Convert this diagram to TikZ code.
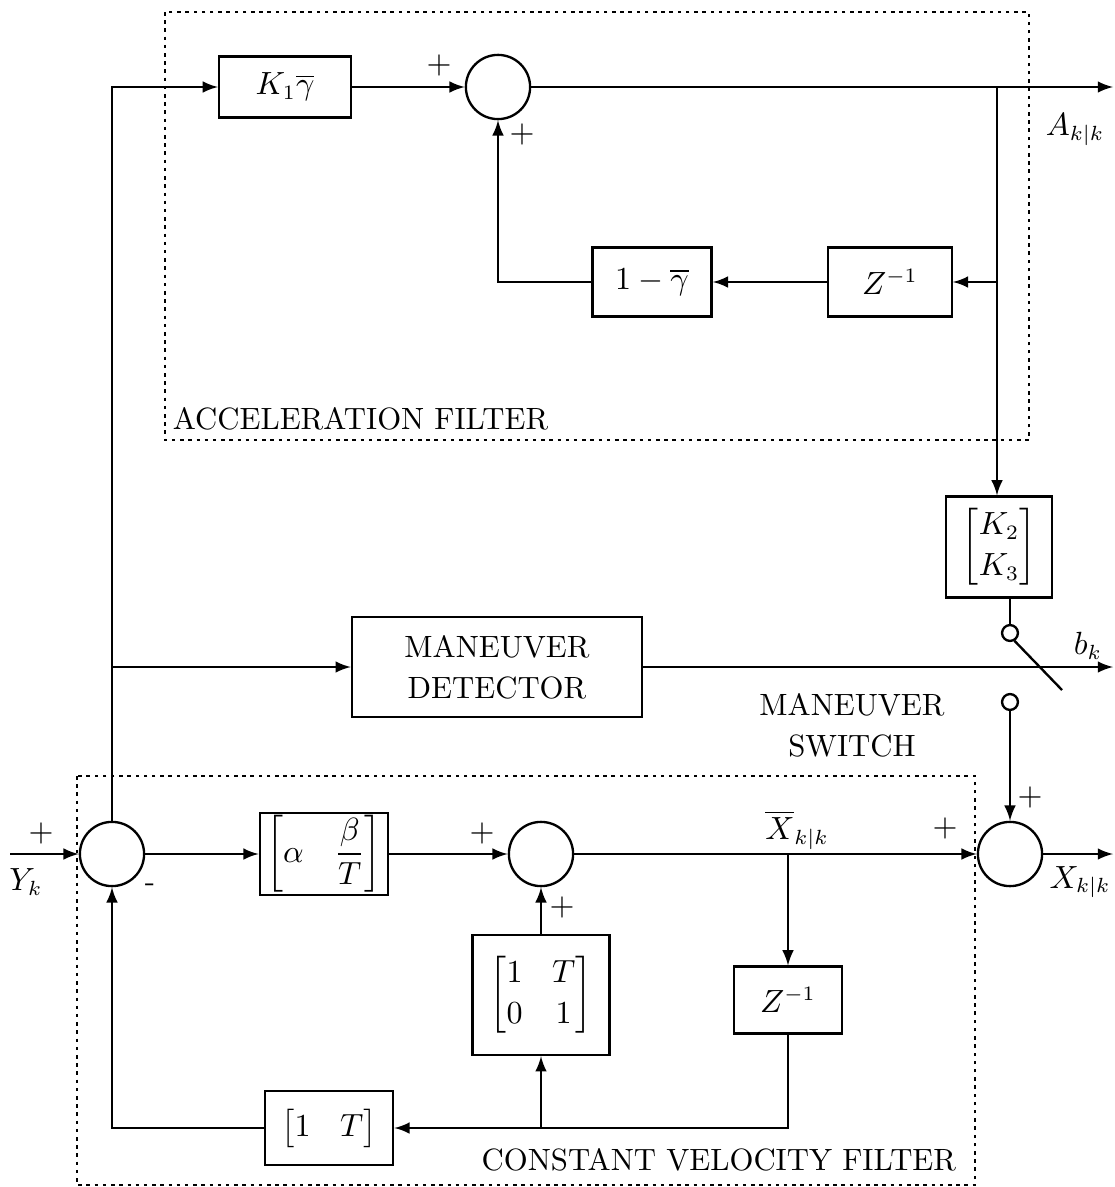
\documentclass[tikz,border=0pt]{standalone}
\usepackage{amsmath}
\usetikzlibrary{arrows,calc,math}

\begin{document}
\begin{tikzpicture}[x=0.012cm,y=-0.012cm,line width=0.8pt,
  font=\fontsize{10.5}{14}\selectfont,
  blk/.style={draw,inner sep=0pt,align=center},
  sum/.style={draw,circle,inner sep=0pt,minimum size=0.77cm},
  swc/.style={draw,circle,inner sep=0pt,minimum size=0.19cm},
  frame/.style={line width=0.7pt,dash pattern=on 1.2pt off 1.6pt}]
\useasboundingbox (0,0) rectangle (1115,1187);

% acceleration filter
\node[blk,minimum width=1.58cm,minimum height=0.73cm] (Kg) at (285,87) {$K_1\overline{\gamma}$};
\node[sum] (S2) at (498,87) {};
\node[blk,minimum width=1.43cm,minimum height=0.83cm] (Og) at (652,282) {$1-\overline{\gamma}$};
\node[blk,minimum width=1.48cm,minimum height=0.83cm] (ZA) at (890,282) {$Z^{-1}$};
\node[blk,minimum width=1.27cm,minimum height=1.21cm] (KK) at (999,547) {$\begin{bmatrix}K_2\\K_3\end{bmatrix}$};
\coordinate (brA) at (997,87);
\coordinate (outA) at (1113,87);

% maneuver detector and switch
\node[blk,minimum width=3.48cm,minimum height=1.2cm] (MD) at (497,667) {MANEUVER\\DETECTOR};
\node[swc] (swA) at (1010,633) {};
\node[swc] (swB) at (1010,702) {};
\coordinate (blade) at (1062,690);
\coordinate (outB) at (1113,667);

% constant velocity filter
\node[sum] (S1) at (112,854) {};
\node[blk,minimum width=1.54cm,minimum height=0.98cm] (AB) at (324,854) {$\left[\alpha\quad\dfrac{\beta}{T}\right]$};
\node[sum] (S3) at (541,854) {};
\node[sum] (S4) at (1010,854) {};
\node[blk,minimum width=1.30cm,minimum height=0.80cm] (ZB) at (788,1000) {$Z^{-1}$};
\node[blk,minimum width=1.64cm,minimum height=1.44cm] (FM) at (541,995) {$\begin{bmatrix}1&T\\0&1\end{bmatrix}$};
\node[blk,minimum width=1.54cm,minimum height=0.88cm] (RT) at (329,1128) {$\begin{bmatrix}1&T\end{bmatrix}$};
\coordinate (inY) at (10,854);
\coordinate (brX) at (788,854);
\coordinate (outX) at (1113,854);

% dotted frames
\draw[frame] (165,12) rectangle (1029,440);
\draw[frame] (77,776) rectangle (975,1185);

% connections
\draw[-latex] (S1.north) |- (Kg.west);
\draw[-latex] (Kg.east) -- (S2.west);
\draw[-latex] (S2.east) -- (outA);
\draw[-latex] (brA) -- (brA |- KK.north);
\draw[-latex] (brA |- ZA.east) -- (ZA.east);
\draw[-latex] (ZA.west) -- (Og.east);
\draw[-latex] (Og.west) -| (S2.south);

\draw (KK.south -| swA) -- (swA.north);
\draw (swA.-60) -- (blade);
\draw[-latex] (swB.south) -- (S4.north);
\draw[-latex] (S1 |- MD.west) -- (MD.west);
\draw[-latex] (MD.east) -- (outB);

\draw[-latex] (inY) -- (S1.west);
\draw[-latex] (S1.east) -- (AB.west);
\draw[-latex] (AB.east) -- (S3.west);
\draw[-latex] (S3.east) -- (S4.west);
\draw[-latex] (S4.east) -- (outX);
\draw[-latex] (brX) -- (ZB.north);
\draw[-latex] (ZB.south) |- (RT.east);
\draw[-latex] (FM.south |- RT.east) -- (FM.south);
\draw[-latex] (FM.north) -- (S3.south);
\draw[-latex] (RT.west) -| (S1.south);

% labels
\node (pS2a) at (439,65) {$+$};
\node (pS2b) at (522,134) {$+$};
\node (lA) at (1075,130) {$A_{k|k}$};
\node[anchor=west] (lAF) at (162,419) {ACCELERATION FILTER};
\node (lb) at (1088,646) {$b_k$};
\node[align=center] (lMS) at (852,725) {MANEUVER\\SWITCH};
\node (pS4a) at (1030,797) {$+$};
\node (pS1) at (41,833) {$+$};
\node (lY) at (26,882) {$Y_k$};
\node (mS1) at (150,888) {-};
\node (pS3a) at (482,833) {$+$};
\node (lXb) at (797,830) {$\overline{X}_{k|k}$};
\node (pS4b) at (945,828) {$+$};
\node (pS3b) at (562,907) {$+$};
\node (lX) at (1080,882) {$X_{k|k}$};
\node[anchor=east] (lCV) at (967,1160) {CONSTANT VELOCITY FILTER};
\end{tikzpicture}
\end{document}
